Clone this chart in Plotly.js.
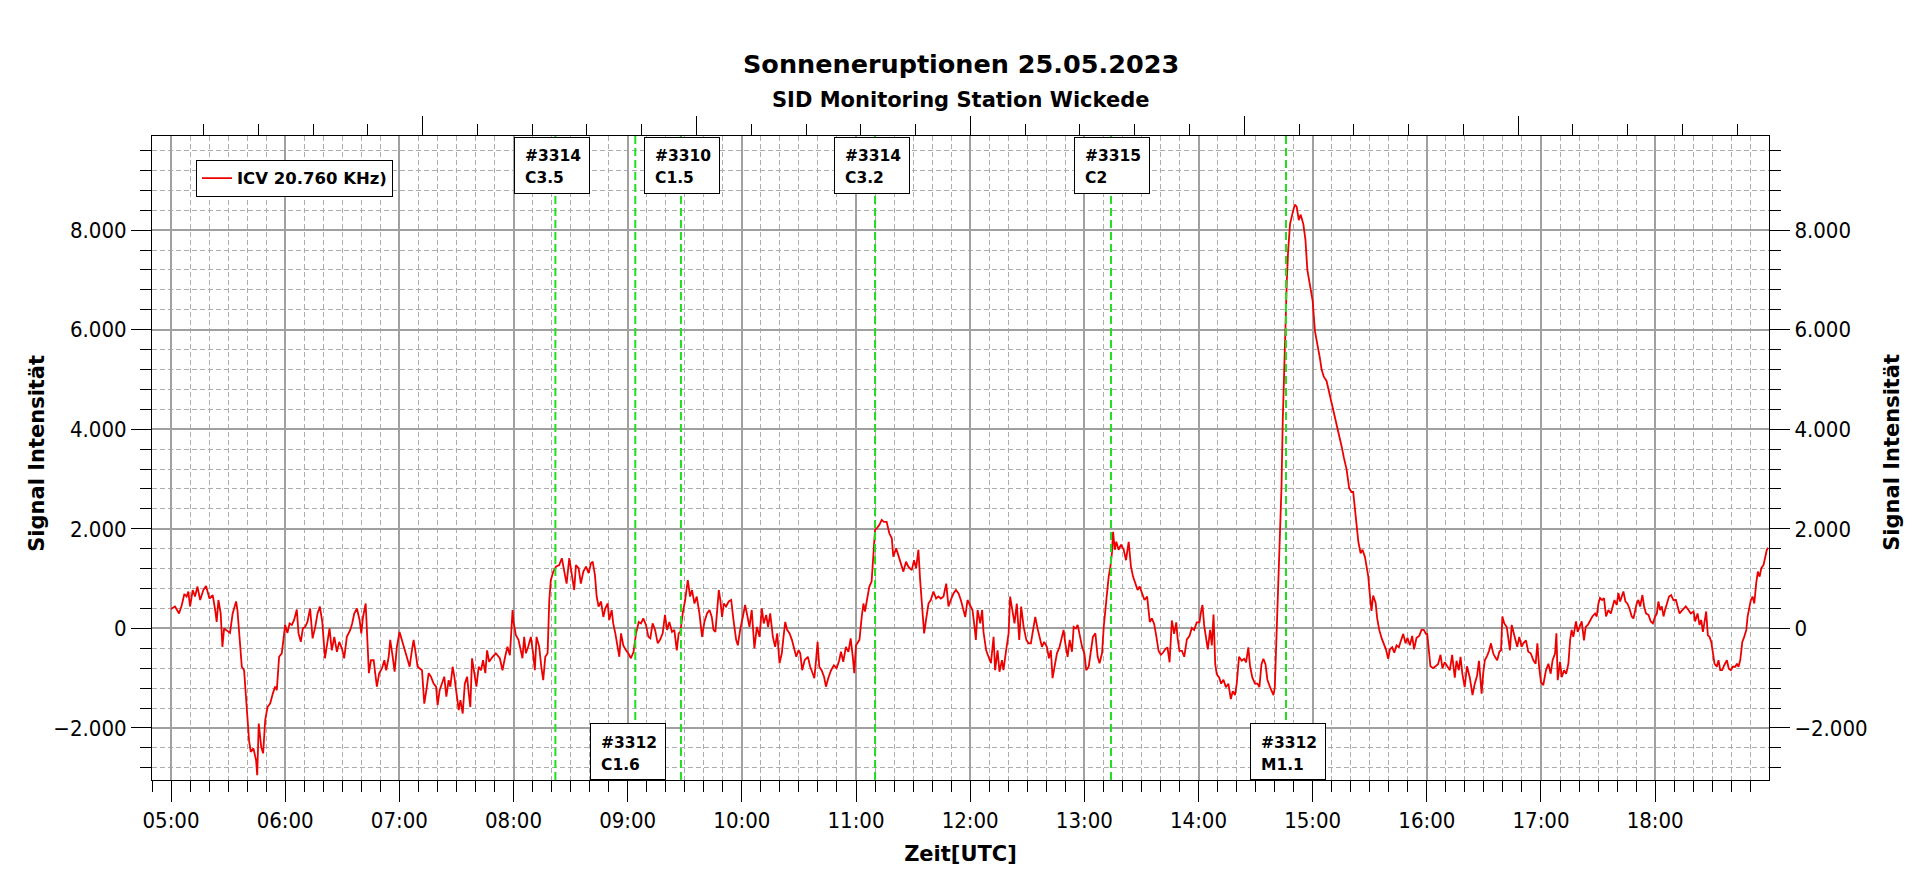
<!DOCTYPE html>
<html lang="de">
<head>
<meta charset="utf-8">
<title>Sonneneruptionen 25.05.2023</title>
<script src="https://cdn.plot.ly/plotly-3.0.1.min.js"></script>
<style>
  html, body { margin: 0; padding: 0; background: #fff; }
  #chart { width: 1920px; height: 879px; }
</style>
</head>
<body>
<div id="chart"></div>
<script>
// Minuten nach 05:00 UTC
const minuten = [
  0,2.1,4.2,5.6,7,8.2,9.1,10,11.4,12.6,13.9,15.3,17,18.4,20.2,21.9,23.2,24,24.9,26.1,27,27.9,28.9,31,32.4,34.2,34.9,36,37.2,38.4,39.8,41,41.9,43.3,44.7,45.3,46.1,47.4,48.4,49.5,50.7,52.1,53.5,54.7,55.6,56.8,58.2,60,61.2,62.3,63.5,64.7,66.1,67,68.2,69.3,70.5,71.7,73.1,74.4,75.8,77,78.2,79.5,80.9,81.9,83.3,84.5,85.8,87.2,88.4,89.8,91,92.4,94.2,95.2,96.3,97.7,99.1,100,100.9,102.3,103,104,105.1,106.5,107.3,108.2,109.4,110.9,112.1,113.1,114.4,115.2,116.5,117.5,118.7,120.1,121.3,122.6,124,125.4,126.6,127.5,128.6,129.6,131.9,133.1,134.2,135.4,136.6,138,139.3,140.1,141.2,142.4,143.6,144.7,145.9,146.8,148,148.9,150,151.2,152.1,153.3,154.4,155.6,156.5,157.3,158.2,159.4,160.5,161.7,162.9,164,165.2,166.1,
  167.2,169,170.7,172.8,174.2,175.6,176.8,178.1,179.5,180,181.2,182.6,183.9,184.7,185.6,186.5,187.7,189.1,190.3,191.2,192.1,193.5,194.6,195.6,196.7,197.9,198.8,199.6,200.9,202.3,204,205.4,206.7,207.9,209.3,210.7,211.9,212.8,214.2,215.4,216.7,218.1,219.5,220.7,221.6,222.8,223.7,224.7,226,227.2,228.2,229.5,230.3,231.6,232.4,233.5,234.7,235.6,236.5,237.7,239.1,240.3,241.7,243.1,244.4,245.8,247,248.2,249.6,250.9,251.9,253.1,254.4,255.8,257,258.4,259.6,260.7,261.9,263.3,264.5,265.8,266.8,267.7,268.9,270.2,271.6,272.8,273.8,275.1,276.3,277.7,279.1,280.3,281.7,283,284.2,285.1,286.1,287,287.9,288.7,289.6,290.5,291.7,293.1,294.4,295.6,297,297.9,299.1,300.5,301.7,302.8,304,305.2,306.6,307.9,309.3,310.5,311.5,312.8,313.8,314.9,316.3,317.5,318.6,319.8,321,321.9,322.8,323.8,325.1,326.3,327.3,328.6,329.8,330.7,331.7,333,334.7,335.9,
  337.2,338.1,339,339.8,340.7,341.9,343.2,344.2,345.4,346.9,348.4,349.8,351.2,352.1,353.3,354.7,356,357.2,358.3,359.1,360,361.8,363,363.9,364.7,366,367,368.2,369.1,370,370.9,372.3,373.5,374.7,376.1,377.5,378.8,379.6,381.1,382.3,383.5,384.9,386.3,387.5,389.3,390.5,391.6,392.8,393.7,394.7,395.8,396.8,398.1,399.3,400.7,402.1,403.3,404.6,406,407.4,408.6,409.8,411.2,412.5,413.9,415.1,416.1,417.4,418.6,420,421.2,422.3,423,423.9,425.3,426.3,427,428.4,429.6,430.9,432.3,433.1,434.4,435.4,436.7,437.5,438.9,440.2,441,442.3,443.3,444.5,445.8,446.8,448.1,449.5,450.7,451.9,453.3,454.2,455.4,456.5,457.7,458.9,460.3,461.4,462.4,463.3,464.4,465.6,467,468.2,469.1,470,471.2,472.3,473.5,474.4,475.6,476.5,477.9,478.8,480,481,482.3,483.5,484.5,485.8,487,488,489.3,490.2,491,491.9,492.8,493.7,494.5,495.1,496,496.8,498,499.3,500.7,501.9,503.3,504.5,505.6,506.8,508,509.1,510.3,511.6,513,514.4,
  515.5,516.7,517.8,519,520.2,521.3,522.5,523.7,524.8,526,527.2,528.3,529,530,531.3,532.5,533.9,535.3,536.5,537.7,539.1,540.5,541.4,542.1,543,544,544.9,546.1,547,547.9,548.8,549.6,550.9,551.9,553.1,554.4,555.7,557,558,559.2,560.1,561.3,562.7,564,565,566.2,567.1,568.3,569.7,571,572,573.1,574.1,575.2,576.2,577.6,578.7,579.4,580.1,580.8,581.5,582.2,582.9,583.6,584.3,585,585.7,586.4,587.1,588.1,589.5,590.6,591.6,592.7,593.7,595.1,596.2,597.2,598.6,600,601.2,602.4,603.8,604.7,605.9,607.3,608.7,610,611.2,612.6,614,615.2,616.4,617.8,619.2,620.5,621.3,622.2,623.1,624,625.2,626.2,627.5,628.3,629.2,630.1,630.9,631.8,633.1,633.9,635,636.2,637.4,638.5,639.7,640.6,641.8,642.9,644.1,645.3,646.3,647.6,648.8,649.8,651.1,652.3,653.3,654.6,656,657.2,658.4,659.5,660.2,661,661.9,663.3,664.7,665.9,667.2,668.2,669.4,670.7,672.1,673.3,674.7,675.6,676.8,677.7,678.7,679.9,681.1,682.6,684,685.2,686.4,687.4,
  688.8,689.6,690.5,691.8,692.8,693.7,694.9,695.8,697,698.1,699,699.7,700.7,702,702.8,703.7,704.6,705.4,706.3,707.5,708.6,709.8,710.7,712.1,713.3,714.6,716,717.2,718.1,719,720,721.2,722.6,723.9,725.1,726.1,727.4,728.1,728.8,730,730.9,732.1,733.2,734.4,735.3,736.1,737,738.4,739.3,740.2,741.4,742.6,743.5,744.6,745.8,747,748.4,749.3,750.2,751,752.1,753.1,754.2,755.4,756.7,757.7,758.6,759.8,760.7,761.6,762.4,763.3,764.4,765.4,766.5,767.7,768.6,769.5,770.3,771.2,772.1,773.3,774.2,775.2,776.5,777.7,778.8,780,780.9,781.7,782.6,783.5,784.4,785.2,786.1,787.3,788.4,789.6,790.9,791.7,792.8,793.7,794.9,796.1,797.5,798.7,800.2,801,802.3,803.3,804.2,805.1,806,806.8,807.7,808.6,809.5,810.3,811.2,812.4,813.3,814.2,815.2,816.3,817.7,818.7,819.8,820.8,822.1,823,823.8,824.7,825.8,826.8,827.9,828.6,829.4,830.3,831.2,832.1,833.1,834,834.9,835.8,837,837.9,838.7,839.4
];

// Signal Intensität
const signal = [
  390,440,300,460,690,640,740,440,770,640,840,570,770,850,600,670,370,130,570,300,-370,0,-30,-90,300,540,370,-100,-770,-840,-1580,-2250,-2480,-2410,-2650,-2950,-1910,-2380,-2510,-1840,-1580,-1510,-1310,-1170,-1240,-570,-500,70,-90,100,70,170,380,-100,-270,0,30,130,400,-200,30,300,440,130,-600,-370,0,-440,-170,-470,-270,-400,-600,-170,-30,100,300,400,170,-100,230,500,30,-900,-640,-640,-900,-1170,-900,-800,-640,-840,-570,-230,-570,-870,-370,-70,-230,-400,-570,-770,-440,-230,-500,-770,-840,-1510,-1240,-900,-970,-1110,-1170,-1540,-1240,-1110,-970,-1370,-1040,-1170,-770,-970,-1310,-1640,-1440,-1710,-1110,-970,-1310,-1580,-600,-900,-1170,-770,-840,-640,-900,-440,
  -670,-570,-500,-600,-840,-570,-370,-540,370,130,-130,-230,-440,-600,-170,-500,-370,-170,-500,-840,-170,-370,-770,-1040,-570,-500,570,970,1140,1240,1270,1410,1140,900,1410,1110,770,1270,1210,900,1140,1240,1110,1310,1340,1070,640,440,540,230,400,500,170,370,100,-100,-370,-570,-100,-340,-440,-500,-600,-470,-100,130,100,200,70,-170,-200,100,-30,-300,-230,-100,270,-30,130,-70,-30,-440,-100,-70,300,570,970,640,770,500,640,300,-170,130,300,370,230,-30,-70,300,770,570,230,500,440,540,570,170,-230,-340,-30,230,470,270,30,370,-400,30,-170,400,100,270,30,300,-170,-370,-100,-700,-500,-170,130,-30,-100,-230,-400,-570,-440,-500,-840,-640,-570,-770,
  -900,-1000,-640,-270,-770,-840,-970,-1170,-1000,-840,-740,-800,-640,-470,-670,-370,-470,-200,-570,-900,-340,-230,230,500,340,640,840,940,1510,1980,2010,2080,2180,2140,2140,1910,1810,1440,1610,1470,1310,1140,1340,1240,1170,1370,1210,1580,970,440,-100,170,500,570,740,600,640,600,640,900,440,570,700,770,700,570,440,230,570,470,370,30,-230,370,100,370,-70,-440,-570,-700,-170,-840,-440,-870,-640,-840,-440,-100,640,370,100,500,-230,440,30,-230,-300,-300,0,230,0,-170,-370,-270,-370,-600,-440,-1000,-770,-500,-370,-170,-30,-300,-570,-230,-470,30,0,70,-230,-370,-500,-840,-770,-370,-170,-100,-570,-700,-500,30,440,700,1040,1240,1510,1940,1580,1740,1580,1680,1580,1370,1740,1240,1040,900,770,840,700,570,640,130,
  200,90,-150,-450,-530,-490,-420,-380,-680,160,-110,120,-190,-450,-450,-570,-220,-150,10,-30,120,120,350,470,50,-260,-420,-30,-340,280,-720,-920,-990,-1110,-1030,-1180,-1110,-1420,-1260,-1340,-1110,-570,-650,-610,-680,-380,-760,-990,-1110,-1110,-1180,-720,-610,-720,-1030,-1180,-1260,-1340,-1180,-420,350,1120,2120,2810,4200,5200,5890,6970,7580,8120,8350,8510,8470,8200,8310,8120,7810,7200,6890,6580,5970,5740,5430,5200,5050,4970,4740,4510,4310,4120,3850,3660,3430,3200,2810,2740,2740,2430,2050,1740,1510,1580,1430,1280,1050,660,350,660,510,200,-30,-190,-300,-420,-610,-420,-380,-490,-340,-380,-260,-110,-300,-190,-340,-150,-420,-190,-150,-30,-30,-110,-110,-490,-760,-800,-760,-720,-530,-800,-680,-760,-840,-530,-990,-650,-840,-570,-920,-1180,-760,-990,-1340,-1110,-950,-650,
  -1310,-910,-640,-540,-440,-300,-500,-570,-640,-470,-440,240,100,30,-240,-440,70,-70,-170,-370,-170,-370,-300,-240,-470,-500,-640,-710,-300,-770,-1080,-1140,-840,-710,-910,-640,-500,-100,-1040,-670,-980,-840,-910,-710,-240,-30,-170,140,-70,30,140,-240,30,70,170,240,300,240,500,610,570,610,240,370,300,440,570,470,710,540,640,740,540,500,400,240,200,340,500,570,440,670,440,300,270,140,100,240,300,540,370,440,240,370,500,640,670,570,570,440,300,340,400,440,370,300,340,140,300,70,170,-70,140,340,-140,-170,-270,-500,-710,-770,-640,-840,-840,-740,-640,-810,-840,-770,-770,-710,-770,-640,-270,-170,-30,240,440,570,640,500,910,1140,1040,1210,1280,1450,1580,1620
];

// Flares (GOES) mit Region und Klasse
const flareZeit   = ['08:22', '09:04', '09:28', '11:10', '13:14', '14:46'];
const flareRegion = ['#3314', '#3312', '#3310', '#3314', '#3315', '#3312'];
const flareKlasse = ['C3.5', 'C1.6', 'C1.5', 'C3.2', 'C2', 'M1.1'];

const serienName = 'ICV 20.760 KHz)';
const titel = 'Sonneneruptionen 25.05.2023';
const untertitel = 'SID Monitoring Station Wickede';
const achseX = 'Zeit[UTC]';
const achseY = 'Signal Intensität';

//================= Hilfen =================
const tag = '2023-05-25';
const t0 = Date.UTC(2023, 4, 25, 5, 0, 0);
function zeitString(m) {
  return new Date(t0 + m * 60000).toISOString().replace('T', ' ').slice(0, 19);
}
const zeiten = minuten.map(zeitString);

const schrift = 'DejaVu Sans, Verdana, sans-serif';
const tickSchrift = 'DejaVu Sans Condensed, Liberation Sans, Arial, sans-serif';
const schwarz = '#000000';
const gitter = '#a0a0a0';
const gitterFein = '#acacac';

// Plotflaeche in px (fuer die Textplatzierung)
const plotB = 1617, plotH = 644;

// Box unten statt oben, und kleine Verschiebung der Box (px)
const boxUnten = [false, true, false, false, false, true];
const boxVersatz = [-3, -7, 1, -3, 1, 2];

//================= Traces =================
const trace = {
  x: zeiten,
  y: signal,
  type: 'scatter',
  mode: 'lines',
  name: serienName,
  line: {color: '#ee0000', width: 1.8},
  hoverinfo: 'skip'
};

// leere Spur, damit die Achsen oben und rechts gezeichnet werden
const achsenSpur = {
  x: [], y: [], xaxis: 'x2', yaxis: 'y2',
  type: 'scatter', mode: 'lines', showlegend: false, hoverinfo: 'skip'
};

//================= Markierungen =================
const shapes = flareZeit.map(z => ({
  type: 'line', xref: 'x', yref: 'paper',
  x0: tag + ' ' + z, x1: tag + ' ' + z, y0: 0, y1: 1,
  line: {color: '#22dd22', width: 2, dash: '8px,4px'}
}));

const annotations = [];
const boxFont = {family: schrift, size: 15.5, weight: 'bold', color: schwarz};
flareZeit.forEach((z, i) => {
  const unten = boxUnten[i];
  // Rahmen
  annotations.push({
    x: tag + ' ' + z, xref: 'x',
    y: unten ? 0 : 1, yref: 'paper',
    xanchor: 'center', yanchor: unten ? 'bottom' : 'top',
    xshift: boxVersatz[i], yshift: unten ? 0 : -1,
    showarrow: false, text: ' ',
    width: 74, height: 55, borderpad: 0,
    bgcolor: '#ffffff', bordercolor: schwarz, borderwidth: 1,
    font: boxFont
  });
  // zwei Textzeilen
  const zeilen = [flareRegion[i], flareKlasse[i]];
  const abst = unten ? [37.5, 15] : [-19.7, -42];
  zeilen.forEach((t, k) => {
    annotations.push({
      x: tag + ' ' + z, xref: 'x',
      y: unten ? 0 : 1, yref: 'paper',
      xanchor: 'left', yanchor: 'middle',
      xshift: boxVersatz[i] - 38 + 10, yshift: abst[k],
      showarrow: false, text: t, borderpad: 0,
      font: boxFont
    });
  });
});

annotations.push({
  text: titel, x: 0.5, xref: 'paper', y: 1 + 72 / plotH, yref: 'paper',
  xanchor: 'center', yanchor: 'middle', showarrow: false,
  font: {family: schrift, size: 25.5, weight: 'bold', color: schwarz}
});
annotations.push({
  text: untertitel, x: 0.5, xref: 'paper', y: 1 + 36 / plotH, yref: 'paper',
  xanchor: 'center', yanchor: 'middle', showarrow: false,
  font: {family: schrift, size: 21, weight: 'bold', color: schwarz}
});

const titelFont = {family: schrift, size: 21, weight: 'bold', color: schwarz};
// Y-Achsentitel links und rechts
[-115 / plotB, 1 + 123 / plotB].forEach(xp => {
  annotations.push({
    text: achseY, textangle: -90,
    x: xp, xref: 'paper', y: 0.508, yref: 'paper',
    xanchor: 'center', yanchor: 'middle', showarrow: false,
    font: titelFont
  });
});

//================= Layout =================
const yBereich = [-3045, 9890];
const tickFont = {family: tickSchrift, size: 22, color: schwarz};

const layout = {
  width: 1920, height: 879,
  margin: {l: 152, r: 151, t: 136, b: 99, pad: 0},
  paper_bgcolor: '#ffffff', plot_bgcolor: '#ffffff',
  separators: ',.',
  showlegend: true,
  legend: {
    x: 0.0272, y: 0.963, xanchor: 'left', yanchor: 'top',
    bgcolor: '#ffffff', bordercolor: schwarz, borderwidth: 1,
    font: {family: schrift, size: 16.5, weight: 'bold', color: schwarz}
  },
  xaxis: {
    type: 'date',
    range: [tag + ' 04:50:00', tag + ' 18:59:50'],
    tick0: tag + ' 05:00:00', dtick: 3600000, tickformat: '%H:%M',
    ticks: 'outside', ticklen: 21, tickwidth: 1, tickcolor: schwarz,
    tickfont: tickFont,
    showline: true, linecolor: schwarz, linewidth: 1,
    showgrid: true, gridcolor: gitter, gridwidth: 2,
    zeroline: false,
    minor: {dtick: 600000, ticks: 'outside', ticklen: 11, tickwidth: 1, tickcolor: schwarz,
            showgrid: true, gridcolor: gitterFein, gridwidth: 1, griddash: '5px,3px'},
    title: {text: achseX, font: titelFont, standoff: 13}
  },
  xaxis2: {
    overlaying: 'x', side: 'top', anchor: 'y',
    range: [0.06, 29.58], tick0: 0, dtick: 5,
    ticks: 'outside', ticklen: 19, tickwidth: 1, tickcolor: schwarz,
    showticklabels: false, showgrid: false, zeroline: false,
    showline: true, linecolor: schwarz, linewidth: 1,
    minor: {dtick: 1, ticks: 'outside', ticklen: 11, tickwidth: 1, tickcolor: schwarz, showgrid: false}
  },
  yaxis: {
    range: yBereich, tick0: 0, dtick: 2000, tickformat: ',d',
    ticks: 'outside', ticklen: 20, tickwidth: 1, tickcolor: schwarz,
    tickfont: tickFont,
    showline: true, linecolor: schwarz, linewidth: 1,
    showgrid: true, gridcolor: gitter, gridwidth: 2,
    zeroline: false,
    minor: {dtick: 400, ticks: 'outside', ticklen: 11, tickwidth: 1, tickcolor: schwarz,
            showgrid: true, gridcolor: gitterFein, gridwidth: 1, griddash: '5px,3px'}
  },
  yaxis2: {
    overlaying: 'y', side: 'right', anchor: 'x',
    range: yBereich, tick0: 0, dtick: 2000, tickformat: ',d',
    ticks: 'outside', ticklen: 20, tickwidth: 1, tickcolor: schwarz,
    tickfont: tickFont, showticklabels: true,
    showline: true, linecolor: schwarz, linewidth: 1,
    showgrid: false, zeroline: false,
    minor: {dtick: 400, ticks: 'outside', ticklen: 11, tickwidth: 1, tickcolor: schwarz, showgrid: false}
  },
  shapes: shapes,
  annotations: annotations
};

Plotly.newPlot('chart', [trace, achsenSpur], layout, {staticPlot: true, displayModeBar: false});
</script>
</body>
</html>
